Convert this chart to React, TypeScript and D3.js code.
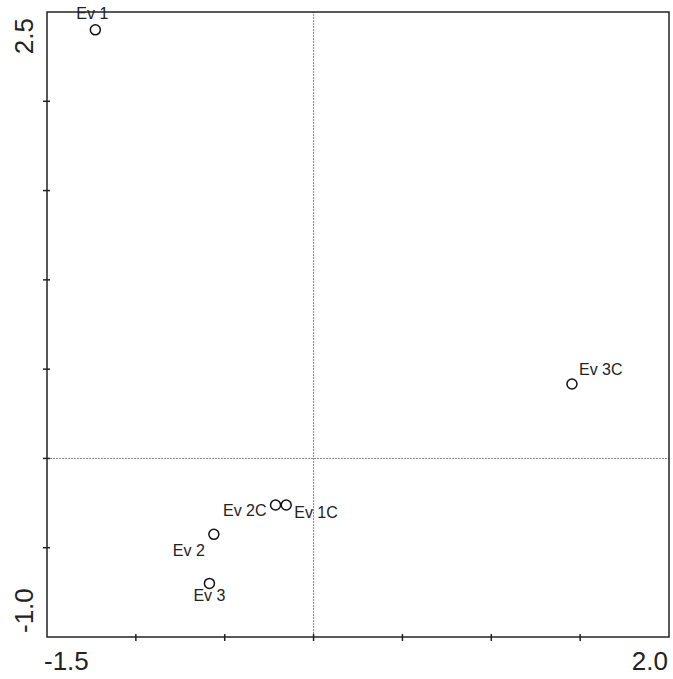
import { useEffect, useRef } from 'react'
import * as d3 from 'd3'

// Scores
const labels = ['Ev 1', 'Ev 2', 'Ev 3', 'Ev 1C', 'Ev 2C', 'Ev 3C']
const xs = [-1.228, -0.561, -0.586, -0.154, -0.214, 1.454]
const ys = [2.40, -0.425, -0.70, -0.261, -0.261, 0.417]

const xDomain = [-1.5, 2.0]
const yDomain = [-1.0, 2.5]
const xTicks = [-1.5, -1.0, -0.5, 0, 0.5, 1.0, 1.5, 2.0]
const yTicks = [-1.0, -0.5, 0, 0.5, 1.0, 1.5, 2.0, 2.5]

// label offsets relative to the point (dx, dy, anchor)
const labelPos = {
  'Ev 1': [-3, -11, 'middle'],
  'Ev 2': [-9, 22, 'end'],
  'Ev 3': [0, 18, 'middle'],
  'Ev 1C': [8, 13, 'start'],
  'Ev 2C': [-9, 11, 'end'],
  'Ev 3C': [7, -9, 'start'],
}

export default function App() {
  const ref = useRef<SVGSVGElement>(null)

  useEffect(() => {
    const width = 673
    const height = 679
    const margin = { top: 12, right: 4, bottom: 42, left: 47 }
    const font = '"Liberation Sans", Arial, sans-serif'

    const data = labels.map((l, i) => ({ label: l, x: xs[i], y: ys[i] }))

    const x = d3.scaleLinear().domain(xDomain).range([margin.left, width - margin.right])
    const y = d3.scaleLinear().domain(yDomain).range([height - margin.bottom, margin.top])

    const svg = d3.select(ref.current)
    svg.selectAll('*').remove()
    svg.attr('width', width).attr('height', height)

    svg.append('rect').attr('width', width).attr('height', height).attr('fill', '#fff')

    // zero lines
    svg.append('line')
      .attr('x1', x(0)).attr('x2', x(0))
      .attr('y1', y(yDomain[0])).attr('y2', y(yDomain[1]))
      .attr('stroke', '#8a8a8a').attr('stroke-width', 1).attr('stroke-dasharray', '2,1')
    svg.append('line')
      .attr('x1', x(xDomain[0])).attr('x2', x(xDomain[1]))
      .attr('y1', y(0)).attr('y2', y(0))
      .attr('stroke', '#8a8a8a').attr('stroke-width', 1).attr('stroke-dasharray', '2,1')

    // frame
    svg.append('rect')
      .attr('x', x(xDomain[0])).attr('y', y(yDomain[1]))
      .attr('width', x(xDomain[1]) - x(xDomain[0]))
      .attr('height', y(yDomain[0]) - y(yDomain[1]))
      .attr('fill', 'none').attr('stroke', '#222').attr('stroke-width', 1.5)

    // ticks
    svg.append('g').selectAll('line').data(xTicks.slice(1, -1)).join('line')
      .attr('x1', (d) => x(d)).attr('x2', (d) => x(d))
      .attr('y1', y(yDomain[0]) - 3).attr('y2', y(yDomain[0]) + 4)
      .attr('stroke', '#222').attr('stroke-width', 1.5)
    svg.append('g').selectAll('line').data(yTicks.slice(1, -1)).join('line')
      .attr('y1', (d) => y(d)).attr('y2', (d) => y(d))
      .attr('x1', x(xDomain[0]) - 4).attr('x2', x(xDomain[0]) + 3)
      .attr('stroke', '#222').attr('stroke-width', 1.5)

    // end labels
    const axisFont = { 'font-family': font, 'font-size': 26, fill: '#222' }
    const xl = svg.append('g')
    xl.append('text').attr('x', x(xDomain[0]) - 3).attr('y', height - 9)
      .attr('text-anchor', 'start').text(xDomain[0].toFixed(1))
    xl.append('text').attr('x', x(xDomain[1]) - 1).attr('y', height - 9)
      .attr('text-anchor', 'end').text(xDomain[1].toFixed(1))
    const yl = svg.append('g')
    yl.append('text').attr('transform', `translate(33,${y(yDomain[1]) + 6}) rotate(-90)`)
      .attr('text-anchor', 'end').text(yDomain[1].toFixed(1))
    yl.append('text').attr('transform', `translate(33,${y(yDomain[0]) - 4}) rotate(-90)`)
      .attr('text-anchor', 'start').text(yDomain[0].toFixed(1))
    for (const g of [xl, yl]) Object.entries(axisFont).forEach(([k, v]) => g.attr(k, v))

    // points
    const pts = svg.append('g')
    pts.selectAll('circle').data(data).join('circle')
      .attr('cx', (d) => x(d.x)).attr('cy', (d) => y(d.y)).attr('r', 5)
      .attr('fill', 'none').attr('stroke', '#111').attr('stroke-width', 1.5)
    pts.selectAll('text').data(data).join('text')
      .attr('x', (d) => x(d.x) + labelPos[d.label][0])
      .attr('y', (d) => y(d.y) + labelPos[d.label][1])
      .attr('text-anchor', (d) => labelPos[d.label][2])
      .attr('font-family', font).attr('font-size', 16).attr('fill', '#222')
      .text((d) => d.label)
  }, [])

  return <svg ref={ref} style={{ position: 'absolute', left: 0, top: 0 }} />
}
